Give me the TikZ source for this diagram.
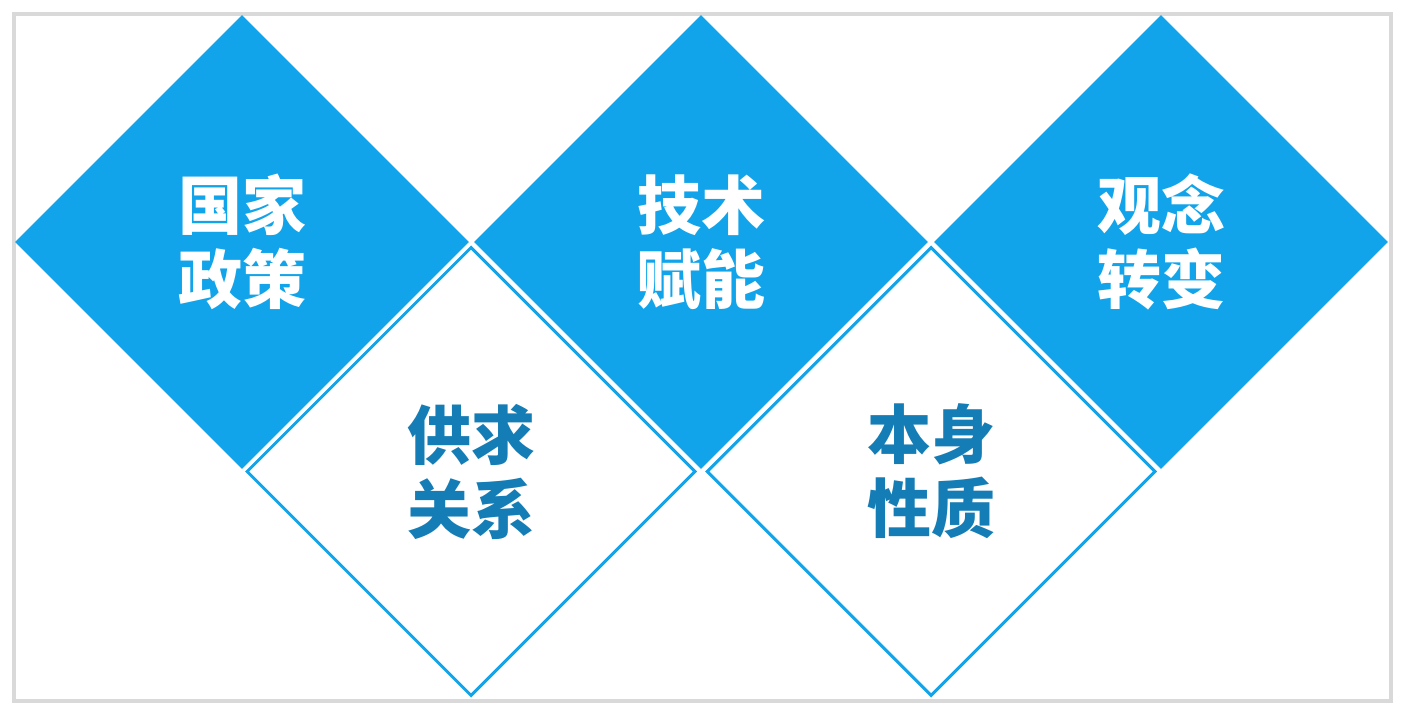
\documentclass[tikz,border=0pt]{standalone}
\usepackage{fontspec}
\newfontfamily\cjk{Noto Sans CJK SC}
\usetikzlibrary{shapes.geometric}
\definecolor{skyblue}{RGB}{17,164,234}
\definecolor{deepblue}{RGB}{21,125,182}
\definecolor{framegray}{RGB}{217,217,217}

\begin{document}
\begin{tikzpicture}[x=0.5pt, y=-0.5pt,
    bluebox/.style={diamond, aspect=1, inner sep=0pt, minimum size=227pt,
        fill=skyblue, text=white, align=center,
        font=\cjk\bfseries\fontsize{32}{37}\selectfont},
    whitebox/.style={diamond, aspect=1, inner sep=0pt, minimum size=224.5pt,
        draw=skyblue, line width=1.5pt, fill=white, text=deepblue, align=center,
        font=\cjk\bfseries\fontsize{32}{37}\selectfont}]

    \useasboundingbox (0,0) rectangle (1406,716);
    \draw[framegray, line width=2pt] (14,14) rectangle (1391,701);

    \node[bluebox] (policy) at (242,242) {国家\\政策};
    \node[bluebox] (tech) at (701,242) {技术\\赋能};
    \node[bluebox] (idea) at (1161,242) {观念\\转变};

    \node[whitebox] (supply) at (471,471.5) {供求\\关系};
    \node[whitebox] (nature) at (931,471.5) {本身\\性质};

\end{tikzpicture}
\end{document}
